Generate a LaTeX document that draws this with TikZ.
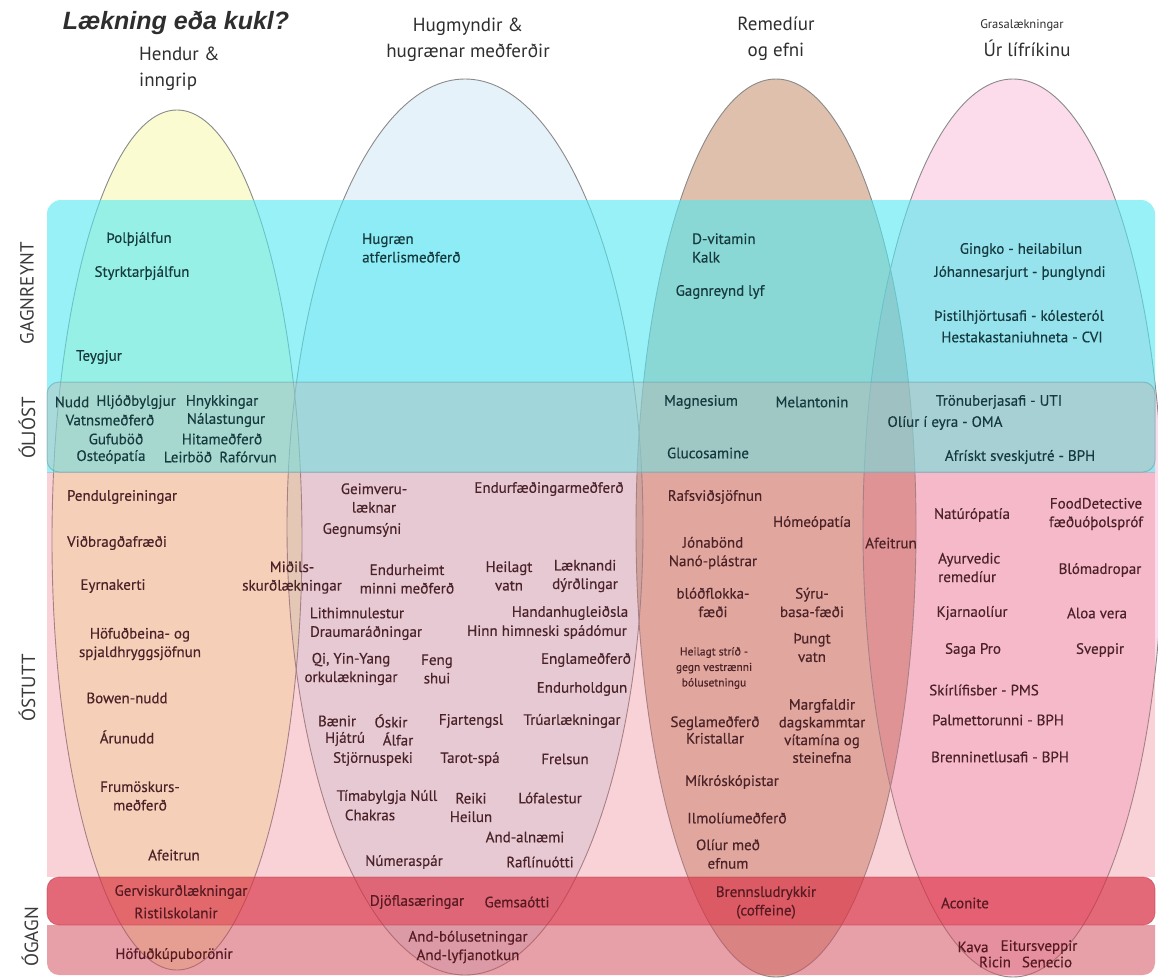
\documentclass[tikz,border=0pt]{standalone}
\usepackage{fontspec}
\setmainfont{PT Sans}
\newfontfamily\mytitlefont{Liberation Sans}
\newfontfamily\myitemfam[FakeBold=0.35]{PT Sans}
\definecolor{eY}{HTML}{FBFBD2}
\definecolor{eB}{HTML}{E6F2FA}
\definecolor{eT}{HTML}{DEC0AC}
\definecolor{eK}{HTML}{FCDBEA}
\definecolor{eYB}{HTML}{E2F0CE}
\definecolor{eBT}{HTML}{C6B8AA}
\definecolor{eTK}{HTML}{DCA4A0}
\definecolor{outl}{HTML}{8A8A8A}
\definecolor{bCy}{HTML}{53E9F2}
\definecolor{bOl}{HTML}{C9ADA8}
\definecolor{bOlLine}{HTML}{5E9EA6}
\definecolor{bPk}{HTML}{EB6C7D}
\definecolor{bRd}{HTML}{DC384B}
\definecolor{bRdLine}{HTML}{B83040}
\definecolor{bLw}{HTML}{D55261}
\definecolor{tealtext}{HTML}{163A3E}
\definecolor{pinktext}{HTML}{4A2228}
\definecolor{redtext}{HTML}{561A22}
\definecolor{headtext}{HTML}{2E2E2E}
\definecolor{sidetext}{HTML}{3A3A3A}
\newcommand\myitemfont{\myitemfam\fontsize{15}{18.5}\selectfont}
\newcommand\mysmallfont{\myitemfam\fontsize{11.5}{15.5}\selectfont}
\begin{document}
\begin{tikzpicture}[x=1pt,y=-1pt,
  base/.style={inner sep=0pt, align=center, font=\myitemfont},
  tc/.style={base, text=tealtext},
  pc/.style={base, text=pinktext},
  rc/.style={base, text=redtext},
  hd/.style={inner sep=0pt, align=center, text=headtext, font=\fontsize{19}{26}\selectfont},
  side/.style={rotate=90, inner sep=0pt, text=sidetext, font=\fontsize{19}{19}\selectfont},
  ttl/.style={inner sep=0pt, text=headtext, font=\mytitlefont\bfseries\itshape\fontsize{25}{27}\selectfont},
  ellA/.style={x radius=125pt, y radius=430pt},
  ellB/.style={x radius=178pt, y radius=448pt},
  ellC/.style={x radius=140pt, y radius=449pt},
  ellD/.style={x radius=150pt, y radius=449pt},
  outline/.style={draw=outl, line width=0.9pt}
]
\useasboundingbox (0,0) rectangle (1158,977);
\fill[white] (0,0) rectangle (1158,977);
% ellipses
\fill[eY] (177,540) ellipse [ellA];
\fill[eB] (465,527) ellipse [ellB];
\fill[eT] (776,528) ellipse [ellC];
\fill[eK] (1013,528) ellipse [ellD];
\begin{scope}
  \clip (177,540) ellipse [ellA];
  \fill[eYB] (465,527) ellipse [ellB];
\end{scope}
\begin{scope}
  \clip (465,527) ellipse [ellB];
  \fill[eBT] (776,528) ellipse [ellC];
\end{scope}
\begin{scope}
  \clip (776,528) ellipse [ellC];
  \fill[eTK] (1013,528) ellipse [ellD];
\end{scope}
\draw[outline] (177,540) ellipse [ellA];
\draw[outline] (465,527) ellipse [ellB];
\draw[outline] (776,528) ellipse [ellC];
\draw[outline] (1013,528) ellipse [ellD];
% bands
\begin{scope}
  \clip (0,0) rectangle (1158,472);
  \fill[bCy, fill opacity=0.6, rounded corners=14pt] (47,200) rectangle (1155,500);
\end{scope}
\fill[bOl, fill opacity=0.35, rounded corners=12pt] (47,382) rectangle (1155,472);
\draw[bOlLine, draw opacity=0.5, line width=1pt, rounded corners=12pt] (47,382) rectangle (1155,472);
\fill[bPk, fill opacity=0.3] (47,472) rectangle (1155,877);
\fill[bRd, fill opacity=0.75, rounded corners=12pt] (47,877) rectangle (1155,925);
\draw[bRdLine, draw opacity=0.5, line width=0.8pt, rounded corners=12pt] (47,877) rectangle (1155,925);
\begin{scope}
  \clip (0,925) rectangle (1158,977);
  \fill[bLw, fill opacity=0.55, rounded corners=12pt] (47,900) rectangle (1155,975);
\end{scope}
% headings
\node[ttl] (title) at (176,23) {Lækning eða kukl?};
\node[hd, align=left, anchor=west] (hendur) at (139,69) {Hendur \&\\inngrip};
\node[hd] (hugm) at (468,40) {Hugmyndir \&\\hugrænar meðferðir};
\node[hd] (remed) at (776,39) {Remedíur\\og efni};
\node[inner sep=0pt, text=headtext, font=\fontsize{12.5}{13}\selectfont] (grasa) at (1022,25) {Grasalækningar};
\node[hd] (urlif) at (1027,48) {Úr lífríkinu};
% side labels
\node[side] (sGag) at (27,293) {GAGNREYNT};
\node[side] (sOlj) at (27,428) {ÓLJÓST};
\node[side] (sOst) at (27,688) {ÓSTUTT};
\node[side] (sOga) at (30,937) {ÓGAGN};
% GAGNREYNT
\node[tc] (polth) at (139,239) {Þolþjálfun};
\node[tc] (styrk) at (142,273) {Styrktarþjálfun};
\node[tc] (teyg) at (99,357) {Teygjur};
\node[tc, anchor=west, align=left] (hugraen) at (362,248) {Hugræn\\atferlismeðferð};
\node[tc, anchor=west, align=left] (dvit) at (692,248) {D-vitamin\\Kalk};
\node[tc] (gagnlyf) at (720,292) {Gagnreynd lyf};
\node[tc] (gingko) at (1021,250) {Gingko - heilabilun};
\node[tc] (johann) at (1020,273) {Jóhannesarjurt - þunglyndi};
\node[tc] (thistil) at (1019,317) {Þistilhjörtusafi - kólesteról};
\node[tc] (hesta) at (1022,337) {Hestakastaniuhneta - CVI};
% OLJOST
\node[tc] (nudd) at (72,402) {Nudd};
\node[tc] (hljod) at (136,402) {Hljóðbylgjur};
\node[tc] (hnykk) at (222,402) {Hnykkingar};
\node[tc] (vatns) at (110,420) {Vatnsmeðferð};
\node[tc] (nala) at (226,420) {Nálastungur};
\node[tc] (gufu) at (116,439) {Gufuböð};
\node[tc] (hita) at (222,439) {Hitameðferð};
\node[tc] (osteo) at (111,457) {Osteópatía};
\node[tc] (leir) at (188,457) {Leirböð};
\node[tc] (rafo) at (248,457) {Rafórvun};
\node[tc] (magn) at (701,402) {Magnesium};
\node[tc] (melat) at (812,402) {Melantonin};
\node[tc] (gluco) at (708,453) {Glucosamine};
\node[tc] (tronu) at (999,402) {Trönuberjasafi - UTI};
\node[tc] (oliur) at (945,423) {Olíur í eyra - OMA};
\node[tc] (afrisk) at (1020,457) {Afrískt sveskjutré - BPH};
% OSTUTT - hendur
\node[pc] (pendul) at (122,497) {Pendulgreiningar};
\node[pc] (vidbr) at (117,543) {Viðbragðafræði};
\node[pc] (eyrna) at (113,586) {Eyrnakerti};
\node[pc] (hofudb) at (140,644) {Höfuðbeina- og\\spjaldhryggsjöfnun};
\node[pc] (bowen) at (127,698) {Bowen-nudd};
\node[pc] (arun) at (127,737) {Árunudd};
\node[pc] (frumo) at (140,796) {Frumöskurs-\\meðferð};
\node[pc] (afeitA) at (174,855) {Afeitrun};
\node[pc] (midils) at (292,577.5) {Miðils-\\skurðlækningar};
% OSTUTT - hugmyndir
\node[pc] (geimv) at (374,498) {Geimveru-\\læknar};
\node[pc] (endurf) at (549,489) {Endurfæðingarmeðferð};
\node[pc] (gegn) at (362,530) {Gegnumsýni};
\node[pc] (endurh) at (407,579) {Endurheimt\\minni meðferð};
\node[pc] (heilv) at (509,576) {Heilagt\\vatn};
\node[pc] (laekn) at (585,576) {Læknandi\\dýrðlingar};
\node[pc] (lithi) at (357,613) {Lithimnulestur};
\node[pc] (draum) at (366,633) {Draumaráðningar};
\node[pc] (handan) at (570,613) {Handanhugleiðsla};
\node[pc] (hinn) at (547,632) {Hinn himneski spádómur};
\node[pc] (qi) at (351,669) {Qi, Yin-Yang\\orkulækningar};
\node[pc] (feng) at (437,669) {Feng\\shui};
\node[pc] (engla) at (586,660) {Englameðferð};
\node[pc] (endhold) at (582,689) {Endurholdgun};
\node[pc] (baenir) at (337,721) {Bænir};
\node[pc] (oskir) at (391,721) {Óskir};
\node[pc] (hjatru) at (345,739) {Hjátrú};
\node[pc] (alfar) at (398,739) {Álfar};
\node[pc] (stjorn) at (373,759) {Stjörnuspeki};
\node[pc] (fjart) at (471,721) {Fjartengsl};
\node[pc] (truar) at (572,721) {Trúarlækningar};
\node[pc] (tarot) at (470,759) {Tarot-spá};
\node[pc] (frels) at (565,759) {Frelsun};
\node[pc] (timab) at (387,797) {Tímabylgja Núll};
\node[pc] (chakras) at (370,815) {Chakras};
\node[pc] (reiki) at (471,807.5) {Reiki\\Heilun};
\node[pc] (lofa) at (550,798) {Lófalestur};
\node[pc] (andaln) at (525,837) {And-alnæmi};
\node[pc] (numer) at (404,862) {Númeraspár};
\node[pc] (raflin) at (540,862) {Raflínuótti};
% OSTUTT - remediur
\node[pc] (rafsv) at (715,497) {Rafsviðsjöfnun};
\node[pc] (homeo) at (812,523) {Hómeópatía};
\node[pc] (afeitB) at (891,543) {Afeitrun};
\node[pc] (jona) at (713,553) {Jónabönd\\Nanó-plástrar};
\node[pc] (blodf) at (713,602.5) {blóðflokka-\\fæði};
\node[pc] (syru) at (812,602.5) {Sýru-\\basa-fæði};
\node[pc] (thungt) at (812,647.5) {Þungt\\vatn};
\node[pc, font=\mysmallfont] (heilstr) at (714,668) {Heilagt stríð -\\gegn vestrænni\\bólusetningu};
\node[pc, font=\myitemfam\fontsize{15}{17.7}\selectfont] (margf) at (822,731) {Margfaldir\\dagskammtar\\vítamína og\\steinefna};
\node[pc, font=\myitemfam\fontsize{15}{16.5}\selectfont] (segla) at (715,730) {Seglameðferð\\Kristallar};
\node[pc] (mikro) at (732,782) {Míkróskópistar};
\node[pc] (ilmol) at (737,818) {Ilmolíumeðferð};
\node[pc] (oliurm) at (728,854) {Olíur með\\efnum};
% OSTUTT - lifriki
\node[pc] (natur) at (972,515) {Natúrópatía};
\node[pc] (food) at (1096,514) {FoodDetective\\fæðuóþolspróf};
\node[pc, anchor=west, align=left] (ayur) at (938,567.5) {Ayurvedic\\remedíur};
\node[pc] (bloma) at (1100,570) {Blómadropar};
\node[pc] (kjarna) at (972,613) {Kjarnaolíur};
\node[pc] (aloa) at (1097,613) {Aloa vera};
\node[pc] (saga) at (973,650) {Saga Pro};
\node[pc] (svepp) at (1100,650) {Sveppir};
\node[pc] (skirl) at (984,690) {Skírlífisber - PMS};
\node[pc] (palm) at (998,720) {Palmettorunni - BPH};
\node[pc] (brenni) at (1000,757) {Brenninetlusafi - BPH};
% OGAGN
\node[rc] (gervi) at (181,892) {Gerviskurðlækningar};
\node[rc] (ristil) at (176,913) {Ristilskolanir};
\node[rc] (hofudk) at (174,955) {Höfuðkúpuborönir};
\node[rc] (djofl) at (417,902) {Djöflasæringar};
\node[rc] (gems) at (517,902) {Gemsaótti};
\node[rc] (andbol) at (468,947) {And-bólusetningar\\And-lyfjanotkun};
\node[rc] (brennsl) at (766,902.5) {Brennsludrykkir\\(coffeine)};
\node[rc] (aconite) at (965,903) {Aconite};
\node[rc] (kava) at (973,947) {Kava};
\node[rc] (eitur) at (1039,947) {Eitursveppir};
\node[rc] (ricin) at (995,962) {Ricin};
\node[rc] (senecio) at (1047,962) {Senecio};
\end{tikzpicture}
\end{document}
